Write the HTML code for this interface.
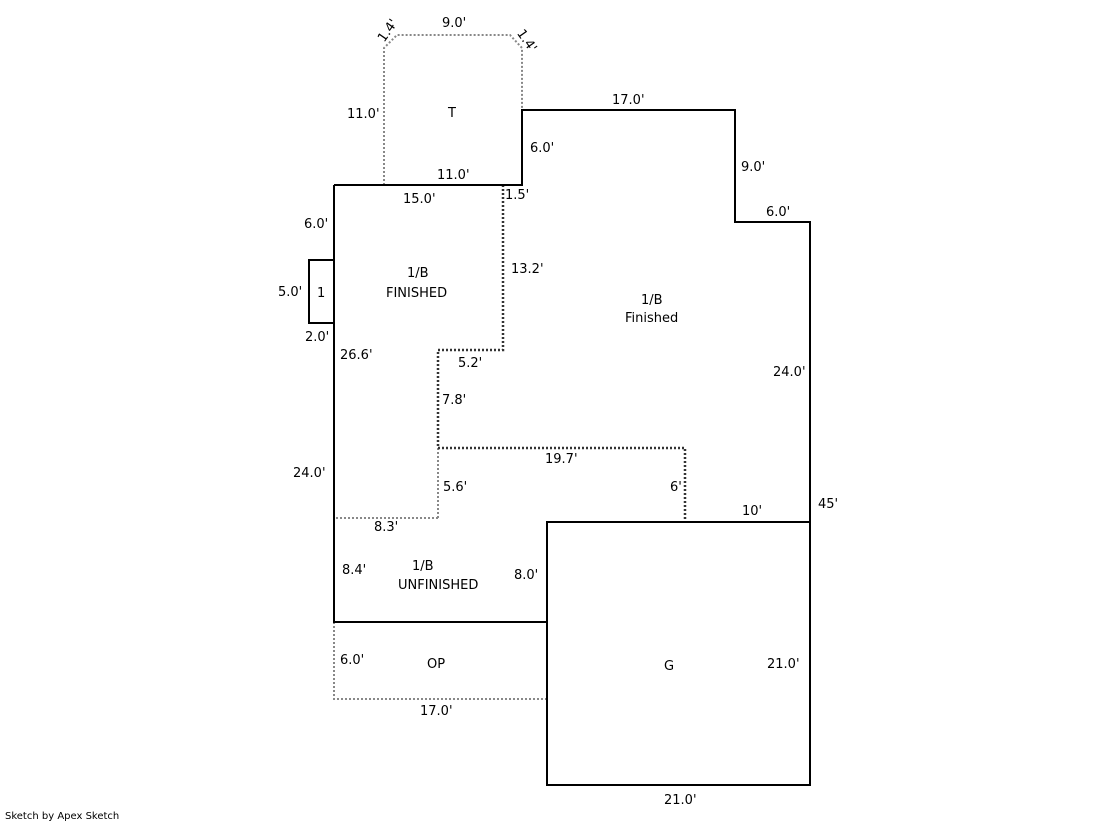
<!DOCTYPE html>
<html><head><style>body{margin:0;background:#fff}svg{display:block}text{font-family:"DejaVu Sans","Liberation Sans",sans-serif;font-size:13px;fill:#000}</style></head>
<body>
<svg width="1119" height="821" viewBox="0 0 1119 821">
<g fill="none" stroke="#888" stroke-width="2" stroke-dasharray="2,2">
<path d="M384 185 V48 L397 35 H510 L522 48 V110"/>
<path d="M334 622 V699 H547"/>
<path d="M438 518 H334"/>
<path d="M438 448 V518"/>
</g>
<g fill="none" stroke="#333" stroke-width="2.5" stroke-dasharray="2,2">
<path d="M503 185 V350 H438 V448 H685 V522"/>
</g>
<g fill="none" stroke="#000" stroke-width="2">
<path d="M334 185 H522 V110 H735 V222 H810 V785 H547 V522 H810"/>
<path d="M334 185 V622 H547"/>
<path d="M334 260 H309 V323 H334"/>
</g>
<text x="442" y="27">9.0'</text>
<text x="380" y="45" transform="rotate(-55 380 40)">1.4'</text>
<text x="514" y="38" transform="rotate(55 520 38)">1.4'</text>
<text x="347" y="118">11.0'</text>
<text x="448" y="117">T</text>
<text x="612" y="104">17.0'</text>
<text x="530" y="152">6.0'</text>
<text x="437" y="179">11.0'</text>
<text x="403" y="203">15.0'</text>
<text x="505" y="199">1.5'</text>
<text x="741" y="171">9.0'</text>
<text x="766" y="216">6.0'</text>
<text x="304" y="228">6.0'</text>
<text x="407" y="277">1/B</text>
<text x="386" y="297">FINISHED</text>
<text x="511" y="273">13.2'</text>
<text x="278" y="296">5.0'</text>
<text x="317" y="297">1</text>
<text x="641" y="304">1/B</text>
<text x="625" y="322">Finished</text>
<text x="305" y="341">2.0'</text>
<text x="340" y="359">26.6'</text>
<text x="458" y="367">5.2'</text>
<text x="773" y="376">24.0'</text>
<text x="442" y="404">7.8'</text>
<text x="545" y="463">19.7'</text>
<text x="293" y="477">24.0'</text>
<text x="443" y="491">5.6'</text>
<text x="670" y="491">6'</text>
<text x="818" y="508">45'</text>
<text x="742" y="515">10'</text>
<text x="374" y="531">8.3'</text>
<text x="412" y="570">1/B</text>
<text x="342" y="574">8.4'</text>
<text x="514" y="579">8.0'</text>
<text x="398" y="589">UNFINISHED</text>
<text x="340" y="664">6.0'</text>
<text x="427" y="668">OP</text>
<text x="664" y="670">G</text>
<text x="767" y="668">21.0'</text>
<text x="420" y="715">17.0'</text>
<text x="664" y="804">21.0'</text>
<text x="5" y="819" style="font-size:10px">Sketch by Apex Sketch</text>
</svg>
</body></html>
